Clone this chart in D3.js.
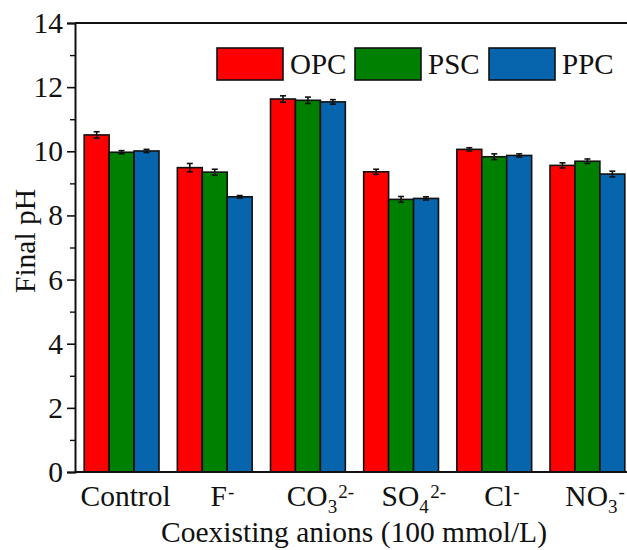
<!DOCTYPE html>
<html><head><meta charset="utf-8">
<script src="https://cdn.jsdelivr.net/npm/d3@7"></script>
<style>html,body{margin:0;padding:0;background:#fff;}svg{display:block;}</style>
</head><body>
<script>
const categories = ["Control","F","CO","SO","Cl","NO"];
const catSub = ["","","3","4","","3"];
const catSup = ["","-","2-","2-","-","-"];
const seriesNames = ["OPC","PSC","PPC"];
const seriesColors = ["#FF0000","#008000","#0765AE"];
const opcValues = [10.51, 9.49, 11.63, 9.36, 10.06, 9.56];
const pscValues = [9.97, 9.35, 11.59, 8.50, 9.83, 9.69];
const ppcValues = [10.01, 8.58, 11.54, 8.53, 9.87, 9.29];
const opcErr = [0.10, 0.13, 0.10, 0.08, 0.05, 0.08];
const pscErr = [0.05, 0.09, 0.10, 0.09, 0.09, 0.07];
const ppcErr = [0.05, 0.04, 0.07, 0.05, 0.05, 0.09];
const yTicks = [0,2,4,6,8,10,12,14];
const yMinorTicks = [1,3,5,7,9,11,13];

const W = 627, H = 550;
const L = 75, T = 23, R = 634, B = 472;
const font = "'Liberation Serif','Times New Roman',serif";
const fs = 29.5;

const svg = d3.select("body").append("svg").attr("width", W).attr("height", H);

const x = d3.scaleBand().domain(categories).range([L, R]).paddingInner(0.197).paddingOuter(0.0985);
const xs = d3.scaleBand().domain(seriesNames).range([0, x.bandwidth()]);
const y = d3.scaleLinear().domain([0, 14]).range([B, T]);

const values = [opcValues, pscValues, ppcValues];
const errs = [opcErr, pscErr, ppcErr];

const data = [];
categories.forEach((c, i) => seriesNames.forEach((s, j) => data.push({c, s, v: values[j][i], e: errs[j][i], col: seriesColors[j]})));

const g = svg.append("g");
g.selectAll("rect.bar").data(data).join("rect").attr("class","bar")
  .attr("x", d => x(d.c) + xs(d.s))
  .attr("y", d => y(d.v))
  .attr("width", xs.bandwidth())
  .attr("height", d => y(0) - y(d.v))
  .attr("fill", d => d.col)
  .attr("stroke", "#111").attr("stroke-width", 1.6);

// error bars
const cx = d => x(d.c) + xs(d.s) + xs.bandwidth()/2;
const eb = g.selectAll("g.err").data(data).join("g").attr("class","err")
  .attr("stroke","#111").attr("stroke-width",1.6);
eb.append("line").attr("x1", cx).attr("x2", cx)
  .attr("y1", d => y(d.v + d.e)).attr("y2", d => y(d.v - d.e));
eb.append("line").attr("x1", d => cx(d) - 3).attr("x2", d => cx(d) + 3)
  .attr("y1", d => y(d.v + d.e)).attr("y2", d => y(d.v + d.e));
eb.append("line").attr("x1", d => cx(d) - 3).attr("x2", d => cx(d) + 3)
  .attr("y1", d => y(d.v - d.e)).attr("y2", d => y(d.v - d.e));

// frame
svg.append("line").attr("x1", L).attr("x2", W+10).attr("y1", T).attr("y2", T).attr("stroke","#111").attr("stroke-width",2);
svg.append("line").attr("x1", L).attr("x2", W+10).attr("y1", B).attr("y2", B).attr("stroke","#111").attr("stroke-width",2.2);

// y axis
const yAxis = svg.append("g").attr("transform", `translate(${L},0)`)
  .call(d3.axisLeft(y).tickValues(yTicks).tickSize(8).tickPadding(4).tickFormat(d3.format("d")));
yAxis.select(".domain").attr("stroke","#111").attr("stroke-width",2);
yAxis.selectAll(".tick line").attr("stroke","#111").attr("stroke-width",1.6);
yAxis.selectAll("text").attr("font-family", font).attr("font-size", fs).attr("fill","#111");
const yMinor = svg.append("g").attr("transform", `translate(${L},0)`)
  .call(d3.axisLeft(y).tickValues(yMinorTicks).tickSize(5).tickFormat(""));
yMinor.select(".domain").remove();
yMinor.selectAll(".tick line").attr("stroke","#111").attr("stroke-width",1.4);

// x labels
const xl = svg.append("g");
categories.forEach((c, i) => {
  const t = xl.append("text")
    .attr("x", x(c) + x.bandwidth()/2 + 4).attr("y", 506)
    .attr("text-anchor","middle").attr("font-family", font).attr("font-size", fs).attr("fill","#111");
  t.append("tspan").text(c);
  if (catSub[i]) t.append("tspan").attr("font-size", 19).attr("dy", 7).text(catSub[i]);
  const bb = t.node().getBBox();
  if (catSup[i]) {
    xl.append("text").attr("x", bb.x + bb.width + 1).attr("y", 498)
      .attr("font-family", font).attr("font-size", 19).attr("fill","#111").text(catSup[i]);
  }
});

// axis titles
svg.append("text").attr("x", 354).attr("y", 542).attr("text-anchor","middle")
  .attr("font-family", font).attr("font-size", fs).attr("fill","#111")
  .text("Coexisting anions (100 mmol/L)");
svg.append("text").attr("transform", `translate(35,241) rotate(-90)`).attr("text-anchor","middle")
  .attr("font-family", font).attr("font-size", fs).attr("fill","#111")
  .text("Final pH");

// legend
const legX = [217, 355, 489];
const lg = svg.append("g");
seriesNames.forEach((s, j) => {
  lg.append("rect").attr("x", legX[j]).attr("y", 48).attr("width", 66).attr("height", 32)
    .attr("fill", seriesColors[j]).attr("stroke","#111").attr("stroke-width",1.6);
  lg.append("text").attr("x", legX[j] + 73).attr("y", 74)
    .attr("font-family", font).attr("font-size", 29).attr("fill","#111").text(s);
});
</script>
</body></html>
